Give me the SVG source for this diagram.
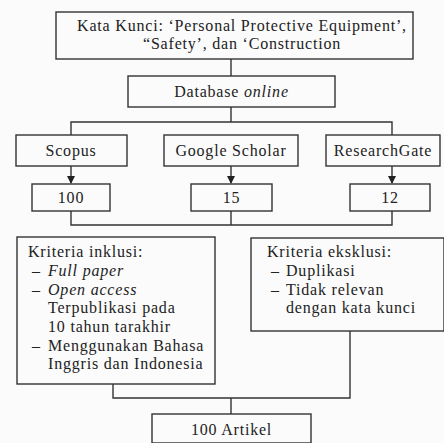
<svg xmlns="http://www.w3.org/2000/svg" width="444" height="443" viewBox="0 0 444 443">
<defs>
<style>
.box{fill:none;stroke:#333;stroke-width:1.4}
.ln{fill:none;stroke:#333;stroke-width:1.4}
text{font-family:"Liberation Serif","Times New Roman",serif;font-size:16px;letter-spacing:0.8px;fill:#222}
.c{text-anchor:middle}
.i{font-style:italic}
</style>
<marker id="ah" markerWidth="8" markerHeight="8" refX="7" refY="4" orient="auto" markerUnits="userSpaceOnUse">
<path d="M0,0 L8,4 L0,8 Z" fill="#222"/>
</marker>
</defs>
<rect width="444" height="443" fill="#fbfbfb"/>
<g id="connectors">
<path class="ln" d="M231,59 V76"/>
<path class="ln" d="M231,107 V122 M71,135 V122 H392 V135"/>
<path class="ln" d="M71,166 V183" marker-end="url(#ah)"/>
<path class="ln" d="M231,166 V183" marker-end="url(#ah)"/>
<path class="ln" d="M392,166 V183" marker-end="url(#ah)"/>
<path class="ln" d="M71,211 V225 H392 V211 M231,211 V225"/>
<path class="ln" d="M113,384 V398 H350 V331 M231,398 V414"/>
</g>
<g id="keywords">
<rect class="box" x="56" y="12" width="357" height="47"/>
<text class="c" x="242" y="31">Kata Kunci: ‘Personal Protective Equipment’,</text>
<text class="c" x="242" y="49">“Safety’, dan ‘Construction</text>
</g>
<g id="database">
<rect class="box" x="128" y="76" width="207" height="31"/>
<text class="c" x="231.5" y="97">Database <tspan class="i">online</tspan></text>
</g>
<g id="scopus">
<rect class="box" x="16" y="135" width="111" height="31"/>
<text class="c" x="71" y="156">Scopus</text>
</g>
<g id="scholar">
<rect class="box" x="164" y="135" width="134" height="31"/>
<text class="c" x="231" y="156">Google Scholar</text>
</g>
<g id="researchgate">
<rect class="box" x="326" y="135" width="114" height="31"/>
<text class="c" x="383" y="156">ResearchGate</text>
</g>
<g id="n100">
<rect class="box" x="32" y="184" width="78" height="27"/>
<text class="c" x="71" y="203">100</text>
</g>
<g id="n15">
<rect class="box" x="191" y="184" width="81" height="27"/>
<text class="c" x="231.5" y="203">15</text>
</g>
<g id="n12">
<rect class="box" x="350" y="184" width="80" height="27"/>
<text class="c" x="390" y="203">12</text>
</g>
<g id="inklusi">
<rect class="box" x="17" y="237" width="198" height="147"/>
<text x="28" y="257">Kriteria inklusi:</text>
<text x="32" y="276">–</text><text class="i" x="48" y="276">Full paper</text>
<text x="32" y="295">–</text><text class="i" x="48" y="295">Open access</text>
<text x="48" y="313">Terpublikasi pada</text>
<text x="48" y="332">10 tahun tarakhir</text>
<text x="32" y="351">–</text><text x="48" y="351">Menggunakan Bahasa</text>
<text x="48" y="369">Inggris dan Indonesia</text>
</g>
<g id="eksklusi">
<rect class="box" x="251" y="238" width="193" height="93"/>
<text x="267" y="257">Kriteria eksklusi:</text>
<text x="271" y="276">–</text><text x="286" y="276">Duplikasi</text>
<text x="271" y="295">–</text><text x="286" y="295">Tidak relevan</text>
<text x="286" y="313">dengan kata kunci</text>
</g>
<g id="artikel">
<rect class="box" x="152" y="414" width="159" height="29"/>
<text class="c" x="231.5" y="435">100 Artikel</text>
</g>
</svg>
